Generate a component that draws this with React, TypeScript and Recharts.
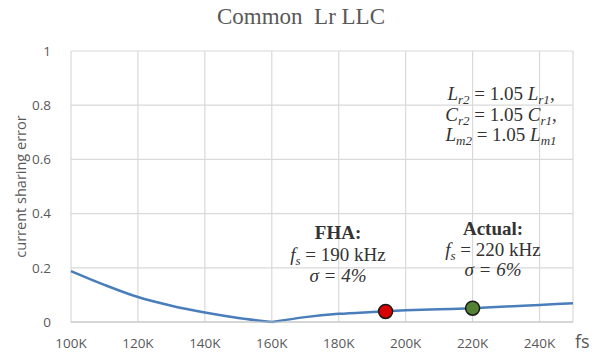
import React from 'react'
import {
  ComposedChart,
  Line,
  XAxis,
  YAxis,
  CartesianGrid,
  ReferenceDot,
} from 'recharts'

// switching frequency (Hz) and current sharing error
const freqs = [100000, 110000, 120000, 130000, 140000, 150000, 160000, 170000, 180000, 190000, 200000, 210000, 220000, 230000, 240000, 250000]
const errors = [0.188, 0.137, 0.092, 0.06, 0.035, 0.015, 0, 0.018, 0.03, 0.037, 0.043, 0.047, 0.051, 0.057, 0.063, 0.069]
// the curve has a sharp minimum here, so it is drawn as two smooth pieces
const minFs = 160000

const xTicks = [100000, 120000, 140000, 160000, 180000, 200000, 220000, 240000]
const yTicks = [0, 0.2, 0.4, 0.6, 0.8, 1]

const markerFs = [194000, 220000]
const markerErr = [0.039, 0.051]
const markerColors = ['#d90000', '#548235']

const data = freqs.map((fs, i) => ({
  fs,
  down: fs <= minFs ? errors[i] : null,
  up: fs >= minFs ? errors[i] : null,
}))

const sans = '"Open Sans", "Liberation Sans", Arial, sans-serif'
const serif = '"Liberation Serif", "Times New Roman", serif'
const axisFont = { fontSize: 13.5, fill: '#595959', fontFamily: sans }
const subStyle: React.CSSProperties = { fontSize: 13, lineHeight: 0, verticalAlign: '-0.28em' }

export default function App() {
  return (
    <div style={{ position: 'absolute', left: 0, top: 0, width: 602, height: 356, background: '#fff' }}>
      <div
        style={{
          position: 'absolute',
          left: 0,
          width: 602,
          top: 4,
          textAlign: 'center',
          fontFamily: serif,
          fontSize: 23,
          color: '#595959',
        }}
      >
        Common&nbsp; Lr LLC
      </div>

      <ComposedChart width={602} height={356} data={data} margin={{ top: 51, right: 29, bottom: 0, left: 0 }}>
        <CartesianGrid stroke="#d9d9d9" strokeWidth={1.2} />
        <XAxis
          dataKey="fs"
          type="number"
          domain={[100000, 250000]}
          ticks={xTicks}
          tickFormatter={(v: number) => `${v / 1000}K`}
          tick={axisFont}
          tickLine={false}
          axisLine={{ stroke: '#bfbfbf', strokeWidth: 1.2 }}
          tickMargin={10}
          height={34}
          interval={0}
        />
        <YAxis
          type="number"
          domain={[0, 1]}
          ticks={yTicks}
          tick={axisFont}
          tickLine={false}
          axisLine={false}
          tickMargin={14}
          width={71}
          label={{
            value: 'current sharing error',
            angle: -90,
            position: 'insideLeft',
            offset: 21,
            style: { textAnchor: 'middle', fontSize: 14.5, fill: '#595959', fontFamily: sans },
          }}
        />
        <Line type="monotone" dataKey="down" stroke="#4a7ebb" strokeWidth={2.5} dot={false} isAnimationActive={false} />
        <Line type="monotone" dataKey="up" stroke="#4a7ebb" strokeWidth={2.5} dot={false} isAnimationActive={false} />
        {markerFs.map((fs, i) => (
          <ReferenceDot key={fs} x={fs} y={markerErr[i]} r={7} fill={markerColors[i]} stroke="#1a1a1a" strokeWidth={1.5} />
        ))}
      </ComposedChart>

      <div style={{ position: 'absolute', left: 575, top: 332, fontSize: 18, lineHeight: 1, color: '#595959', fontFamily: sans }}>
        fs
      </div>

      <div
        style={{
          position: 'absolute',
          left: 411,
          width: 180,
          top: 84,
          textAlign: 'center',
          fontFamily: serif,
          fontSize: 19,
          lineHeight: '20.5px',
          color: '#333',
        }}
      >
        <div><i>L<sub style={subStyle}>r2</sub></i> = 1.05 <i>L<sub style={subStyle}>r1</sub></i>,</div>
        <div><i>C<sub style={subStyle}>r2</sub></i> = 1.05 <i>C<sub style={subStyle}>r1</sub></i>,</div>
        <div><i>L<sub style={subStyle}>m2</sub></i> = 1.05 <i>L<sub style={subStyle}>m1</sub></i></div>
      </div>

      <div
        style={{
          position: 'absolute',
          left: 258,
          width: 160,
          top: 222,
          textAlign: 'center',
          fontFamily: serif,
          fontSize: 19,
          lineHeight: '21.5px',
          color: '#333',
        }}
      >
        <div><b>FHA:</b></div>
        <div><i>f<sub style={subStyle}>s</sub></i> = 190 kHz</div>
        <div><i>σ = 4%</i></div>
      </div>

      <div
        style={{
          position: 'absolute',
          left: 413,
          width: 160,
          top: 219,
          textAlign: 'center',
          fontFamily: serif,
          fontSize: 19,
          lineHeight: '20.5px',
          color: '#333',
        }}
      >
        <div><b>Actual:</b></div>
        <div><i>f<sub style={subStyle}>s</sub></i> = 220 kHz</div>
        <div><i>σ = 6%</i></div>
      </div>
    </div>
  )
}
